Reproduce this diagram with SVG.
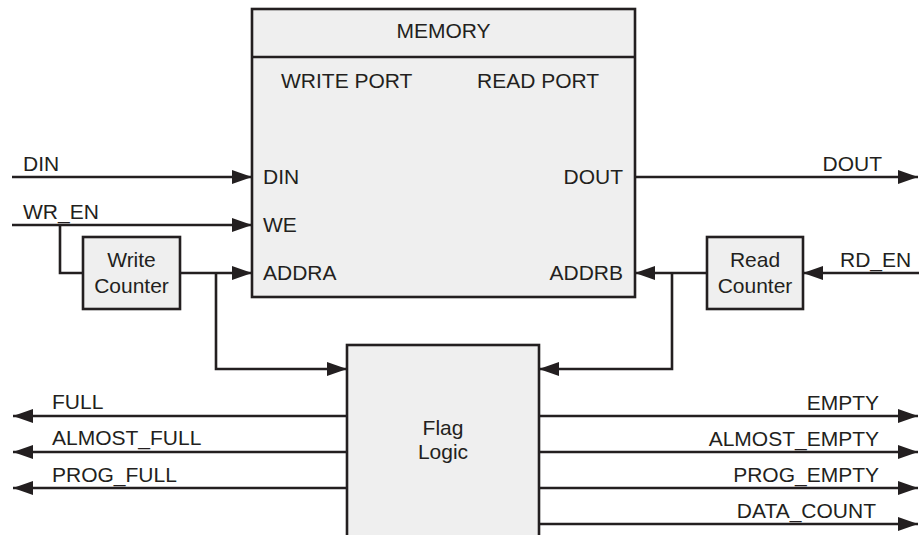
<svg xmlns="http://www.w3.org/2000/svg" width="919" height="535" viewBox="0 0 919 535">
<style>
.box{fill:#efefef;stroke:#231f20;stroke-width:2.6}
.w{fill:none;stroke:#231f20;stroke-width:2.6}
.a{marker-end:url(#ah)}
text{font-family:"Liberation Sans",Arial,sans-serif;font-size:21px;fill:#231f20}
.m{text-anchor:middle}
.e{text-anchor:end}
</style>
<defs>
<marker id="ah" markerUnits="userSpaceOnUse" markerWidth="22" markerHeight="16" refX="20" refY="7" orient="auto">
<path d="M0,0 L20,7 L0,14 z" fill="#231f20"/>
</marker>
</defs>
<rect width="919" height="535" fill="#ffffff"/>
<g id="memory">
<rect class="box" x="252" y="9" width="383" height="288"/>
<line class="w" x1="252" y1="57" x2="635" y2="57"/>
<text class="m" x="443.5" y="38">MEMORY</text>
<text x="281" y="88">WRITE PORT</text>
<text x="477" y="88">READ PORT</text>
<text x="263" y="184">DIN</text>
<text x="263" y="232">WE</text>
<text x="263" y="280">ADDRA</text>
<text class="e" x="623" y="184">DOUT</text>
<text class="e" x="623" y="280">ADDRB</text>
</g>
<g id="write-counter">
<rect class="box" x="83" y="237" width="97" height="72"/>
<text class="m" x="131.5" y="267">Write</text>
<text class="m" x="131.5" y="293">Counter</text>
</g>
<g id="read-counter">
<rect class="box" x="707" y="237" width="96" height="72"/>
<text class="m" x="755" y="267">Read</text>
<text class="m" x="755" y="293">Counter</text>
</g>
<g id="flag-logic">
<rect class="box" x="347" y="345" width="192" height="200"/>
<text class="m" x="443" y="435">Flag</text>
<text class="m" x="443" y="459">Logic</text>
</g>
<g id="connectors">
<line class="w a" x1="12" y1="177" x2="252" y2="177"/>
<line class="w a" x1="12" y1="225" x2="252" y2="225"/>
<polyline class="w" points="60,225 60,273 83,273"/>
<line class="w a" x1="180" y1="273" x2="252" y2="273"/>
<polyline class="w a" points="216,273 216,369 347,369"/>
<line class="w a" x1="635" y1="177" x2="918" y2="177"/>
<line class="w a" x1="919" y1="273" x2="803" y2="273"/>
<line class="w a" x1="707" y1="273" x2="635" y2="273"/>
<polyline class="w a" points="672,273 672,369 539,369"/>
<line class="w a" x1="347" y1="416" x2="13" y2="416"/>
<line class="w a" x1="347" y1="452" x2="13" y2="452"/>
<line class="w a" x1="347" y1="488" x2="13" y2="488"/>
<line class="w a" x1="539" y1="416" x2="918" y2="416"/>
<line class="w a" x1="539" y1="452" x2="918" y2="452"/>
<line class="w a" x1="539" y1="488" x2="918" y2="488"/>
<line class="w a" x1="539" y1="524" x2="918" y2="524"/>
</g>
<g id="labels">
<text x="23" y="171">DIN</text>
<text x="23" y="219">WR_EN</text>
<text class="e" x="882" y="171">DOUT</text>
<text x="840" y="267">RD_EN</text>
<text x="52" y="409">FULL</text>
<text x="52" y="445">ALMOST_FULL</text>
<text x="52" y="482">PROG_FULL</text>
<text class="e" x="879" y="410">EMPTY</text>
<text class="e" x="879" y="446">ALMOST_EMPTY</text>
<text class="e" x="879" y="482">PROG_EMPTY</text>
<text class="e" x="876" y="518">DATA_COUNT</text>
</g>
</svg>
